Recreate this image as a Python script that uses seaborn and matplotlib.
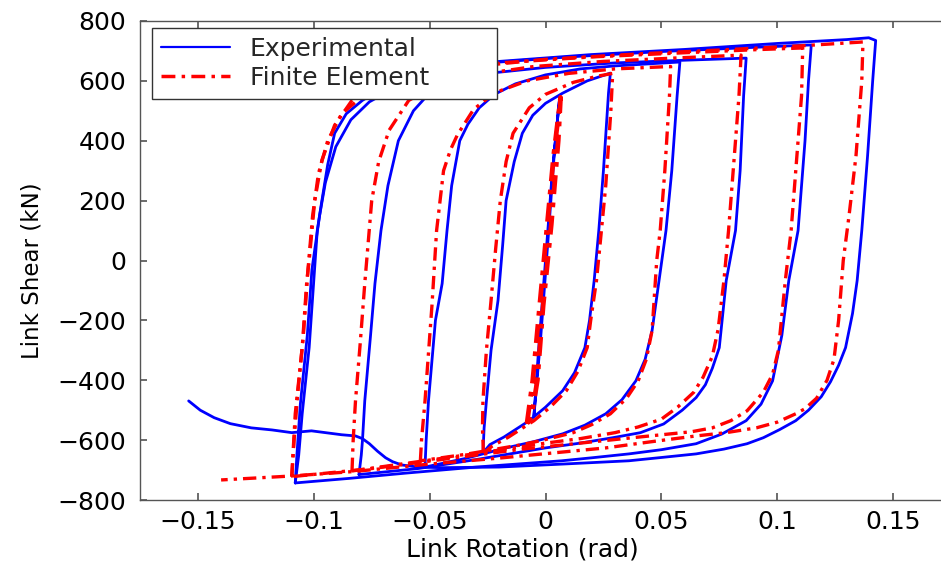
import matplotlib
matplotlib.use("Agg")
import matplotlib.pyplot as plt
import seaborn as sns
from matplotlib.lines import Line2D
from matplotlib.ticker import FixedLocator, FixedFormatter

# ---------------- data ----------------
# Experimental loops (link rotation [rad], link shear [kN])
exp_c0_x = [-0.005, -0.002, 0.001, 0.004, 0.006, 0.003, 0.0, -0.003, -0.005]
exp_c0_y = [-520, -250, 60, 380, 535, 300, 0, -300, -520]

exp_c1_x = [-0.027, -0.0265, -0.0255, -0.0235, -0.0205, -0.0185, -0.017, -0.0135, -0.010, -0.0055,
            0.0, 0.0074, 0.018, 0.028,
            0.0272, 0.025, 0.023, 0.021, 0.019, 0.017, 0.0125, 0.0074, 0.0, -0.007, -0.013,
            -0.018, -0.024, -0.027]
exp_c1_y = [-643, -560, -469, -300, -134, 50, 200, 330, 425, 485,
            525, 559, 600, 626,
            560, 300, 100, -67, -200, -291, -375, -435, -490, -535, -565,
            -590, -615, -643]

exp_c2_x = [-0.052, -0.0515, -0.0505, -0.0475, -0.0446, -0.0425, -0.0405, -0.037, -0.0335, -0.0286,
            -0.022, -0.013, 0.0, 0.015, 0.030, 0.045, 0.058,
            0.0568, 0.0545, 0.052, 0.049, 0.046, 0.043, 0.039, 0.033, 0.026, 0.017, 0.0074,
            -0.005, -0.017, -0.035, -0.052]
exp_c2_y = [-690, -600, -469, -200, -77, 100, 250, 400, 455, 510,
            555, 590, 620, 640, 650, 657, 663,
            550, 300, 100, -67, -234, -330, -402, -465, -512, -550, -579,
            -605, -626, -662, -690]

exp_c3_x = [-0.0805, -0.0795, -0.079, -0.078, -0.0755, -0.0736, -0.071, -0.068, -0.0635, -0.057,
            -0.050, -0.040, -0.025, 0.0, 0.030, 0.060, 0.0866,
            0.0855, 0.084, 0.082, 0.078, 0.075, 0.072, 0.069, 0.065, 0.059, 0.051, 0.041,
            0.029, 0.015, 0.0, -0.030, -0.055, -0.0805]
exp_c3_y = [-715, -650, -602, -469, -250, -77, 100, 250, 400, 500,
            560, 600, 625, 645, 660, 669, 676,
            550, 300, 100, -67, -291, -360, -415, -458, -500, -546, -575,
            -592, -610, -626, -665, -695, -715]

exp_c4_x = [-0.108, -0.1065, -0.105, -0.102, -0.100, -0.0985, -0.0965, -0.094, -0.091, -0.086,
            -0.079, -0.068, -0.050, -0.025, 0.010, 0.050, 0.090, 0.1147,
            0.1135, 0.112, 0.109, 0.105, 0.102, 0.098, 0.093, 0.0866, 0.076, 0.065, 0.050,
            0.036, 0.020, 0.007, -0.030, -0.060, -0.085, -0.108]
exp_c4_y = [-743, -650, -512, -291, -67, 100, 200, 320, 425, 490,
            535, 585, 630, 660, 680, 698, 712, 720,
            600, 400, 100, -67, -250, -402, -480, -535, -580, -612, -632,
            -646, -659, -669, -690, -710, -728, -743]

exp_c5_x = [-0.108, -0.1072, -0.1058, -0.1028, -0.1008, -0.0975, -0.095, -0.0905, -0.084, -0.076,
            -0.062, -0.043, -0.020, 0.020, 0.060, 0.100, 0.130, 0.1395, 0.1425,
            0.1412, 0.139, 0.1365, 0.1345, 0.1325, 0.1295, 0.1265, 0.123, 0.119, 0.1135, 0.108,
            0.101, 0.094, 0.087, 0.077, 0.065, 0.050, 0.036, 0.0074, -0.020, -0.045, -0.055,
            -0.062, -0.066, -0.069, -0.0725, -0.076, -0.079, -0.082, -0.088, -0.095, -0.101,
            -0.1095, -0.118, -0.127, -0.136, -0.143, -0.149, -0.154]
exp_c5_y = [-743, -640, -480, -250, -30, 150, 260, 380, 470, 530,
            590, 637, 665, 688, 705, 725, 738, 744, 735,
            600, 350, 100, -67, -177, -291, -350, -405, -455, -500, -535,
            -565, -592, -612, -630, -646, -658, -669, -680, -690, -692, -690,
            -683, -672, -659, -637, -612, -595, -586, -582, -575, -569,
            -575, -566, -559, -545, -525, -500, -469]

# Finite element loops
fe_c0_x = [-0.008, -0.0055, -0.0025, 0.0005, 0.0035, 0.0065, 0.0055, 0.0025, -0.001, -0.0035,
           -0.006, -0.008]
fe_c0_y = [-545, -400, -150, 100, 350, 545, 400, 120, -150, -400, -520, -545]

fe_c1_x = [-0.0268, -0.0272, -0.027, -0.0255, -0.0235, -0.0215, -0.0195, -0.017, -0.014, -0.007,
           0.0, 0.012, 0.022, 0.029,
           0.0282, 0.026, 0.0235, 0.022, 0.0195, 0.018, 0.014, 0.009, 0.002, -0.005, -0.011,
           -0.016, -0.023, -0.0268]
fe_c1_y = [-643, -560, -469, -300, -134, 40, 200, 330, 425, 510,
           555, 595, 615, 625,
           500, 250, 50, -67, -200, -291, -370, -435, -490, -535, -565,
           -590, -620, -643]

fe_c2_x = [-0.054, -0.0535, -0.052, -0.049, -0.047, -0.044, -0.041, -0.038, -0.031, -0.022,
           -0.008, 0.010, 0.030, 0.054,
           0.0535, 0.0515, 0.0495, 0.048, 0.046, 0.0435, 0.040, 0.035, 0.028, 0.020, 0.012,
           0.0, -0.010, -0.035, -0.054]
fe_c2_y = [-669, -600, -469, -150, 100, 300, 370, 420, 505, 560,
           600, 625, 640, 648,
           550, 300, 100, 0, -234, -330, -402, -460, -512, -548, -575,
           -598, -615, -648, -669]

fe_c3_x = [-0.0835, -0.083, -0.082, -0.080, -0.078, -0.075, -0.072, -0.0675, -0.059, -0.047,
           -0.030, -0.005, 0.025, 0.055, 0.0844,
           0.0835, 0.081, 0.079, 0.077, 0.0745, 0.072, 0.068, 0.064, 0.057, 0.050, 0.040,
           0.030, 0.015, 0.0, -0.030, -0.055, -0.0835]
fe_c3_y = [-703, -600, -469, -280, -77, 200, 330, 435, 535, 585,
           620, 648, 665, 676, 686,
           550, 300, 100, -67, -230, -320, -390, -440, -490, -530, -556,
           -575, -595, -610, -645, -672, -703]

fe_c4_x = [-0.1095, -0.109, -0.108, -0.105, -0.103, -0.102, -0.0996, -0.0965, -0.091, -0.0835,
           -0.070, -0.050, -0.020, 0.020, 0.060, 0.090, 0.111,
           0.1105, 0.108, 0.106, 0.1035, 0.1005, 0.098, 0.094, 0.087, 0.080, 0.072, 0.063,
           0.054, 0.040, 0.025, -0.010, -0.040, -0.075, -0.1095]
fe_c4_y = [-722, -650, -512, -291, -67, 0, 200, 335, 452, 535,
           590, 630, 660, 680, 694, 704, 710,
           550, 300, 100, -67, -300, -380, -440, -502, -535, -559, -572,
           -579, -590, -602, -630, -660, -695, -722]

fe_c5_x = [-0.1095, -0.1085, -0.107, -0.1045, -0.1025, -0.1005, -0.098, -0.094, -0.088, -0.078,
           -0.060, -0.035, 0.0, 0.040, 0.080, 0.110, 0.137,
           0.1365, 0.134, 0.131, 0.1285, 0.1265, 0.1245, 0.1215, 0.117, 0.112, 0.108, 0.100,
           0.091, 0.078, 0.065, 0.045, 0.026, -0.020, -0.050, -0.083, -0.110, -0.140]
fe_c5_y = [-722, -600, -450, -250, -30, 150, 290, 400, 490, 555,
           610, 645, 672, 690, 705, 717, 730,
           600, 350, 150, 0, -200, -330, -400, -460, -495, -512, -540,
           -559, -575, -586, -606, -626, -660, -680, -705, -720, -733]

exp_loops = [(exp_c0_x, exp_c0_y), (exp_c1_x, exp_c1_y), (exp_c2_x, exp_c2_y),
             (exp_c3_x, exp_c3_y), (exp_c4_x, exp_c4_y), (exp_c5_x, exp_c5_y)]
fe_loops = [(fe_c0_x, fe_c0_y), (fe_c1_x, fe_c1_y), (fe_c2_x, fe_c2_y),
            (fe_c3_x, fe_c3_y), (fe_c4_x, fe_c4_y), (fe_c5_x, fe_c5_y)]

x_ticks = [-0.15, -0.1, -0.05, 0, 0.05, 0.1, 0.15]
x_tick_labels = ["\u22120.15", "\u22120.1", "\u22120.05", "0", "0.05", "0.1", "0.15"]
y_ticks = [-800, -600, -400, -200, 0, 200, 400, 600, 800]
y_tick_labels = ["\u2212800", "\u2212600", "\u2212400", "\u2212200", "0", "200", "400", "600", "800"]
series_labels = ["Experimental", "Finite Element"]

# ---------------- styling ----------------
sns.set_theme(style="ticks", rc={
    "xtick.direction": "in", "ytick.direction": "in",
    "xtick.major.size": 5, "ytick.major.size": 5,
    "xtick.major.width": 1.1, "ytick.major.width": 1.1,
    "xtick.color": "#444444", "ytick.color": "#444444",
    "xtick.labelcolor": "black", "ytick.labelcolor": "black",
    "xtick.top": True, "ytick.right": True,
    "xtick.bottom": True, "ytick.left": True,
})
plt.rcParams['font.family'] = ['DejaVu Sans']

BLUE = "#0000ff"
RED = "#ff0000"
DASHDOT = (0, (4.0, 1.8, 1.0, 1.8))

fig = plt.figure(figsize=(9.41, 5.71), dpi=100)
ax = fig.add_axes([140 / 941, 71 / 571, 811 / 941, 479 / 571])

for xs, ys in exp_loops:
    sns.lineplot(x=xs, y=ys, sort=False, estimator=None, ax=ax,
                 color=BLUE, linewidth=2.0, legend=False)

for i, (xs, ys) in enumerate(fe_loops):
    sns.lineplot(x=xs, y=ys, sort=False, estimator=None, ax=ax,
                 color=RED, linewidth=3.4 if i == 0 else 2.4,
                 linestyle=DASHDOT, legend=False)

ax.set_xlim(-0.175, 0.175)
ax.set_ylim(-800, 800)
ax.xaxis.set_major_locator(FixedLocator(x_ticks))
ax.xaxis.set_major_formatter(FixedFormatter(x_tick_labels))
ax.yaxis.set_major_locator(FixedLocator(y_ticks))
ax.yaxis.set_major_formatter(FixedFormatter(y_tick_labels))

ax.tick_params(axis='both', which='major', labelsize=18)
ax.tick_params(axis='x', pad=7)
ax.tick_params(axis='y', pad=10)
for tl in ax.xaxis.get_ticklines() + ax.yaxis.get_ticklines():
    tl.set_zorder(5)

for sp in ax.spines.values():
    sp.set_visible(True)
    sp.set_color('#555555')
    sp.set_linewidth(1.0)

ax.set_xlabel("Link Rotation (rad)", fontsize=18, color='black')
ax.set_ylabel("Link Shear (kN)", fontsize=16.5, color='black')
ax.xaxis.set_label_coords(0.471, -0.079)
ax.yaxis.set_label_coords(-0.1196, 0.478)

handles = [Line2D([], [], color=BLUE, linewidth=1.6),
           Line2D([], [], color=RED, linewidth=2.5, linestyle=DASHDOT)]
leg = ax.legend(handles, series_labels, loc='upper left',
                bbox_to_anchor=(0.0148, 0.835, 0.4254, 0.1503), mode='expand',
                borderaxespad=0, fontsize=18, frameon=True, fancybox=False,
                framealpha=1, edgecolor='#333333', borderpad=0.35,
                labelspacing=0.2, handlelength=2.75, handletextpad=0.8)
leg.get_frame().set_linewidth(1.0)

fig.savefig("out.png", dpi=100)
